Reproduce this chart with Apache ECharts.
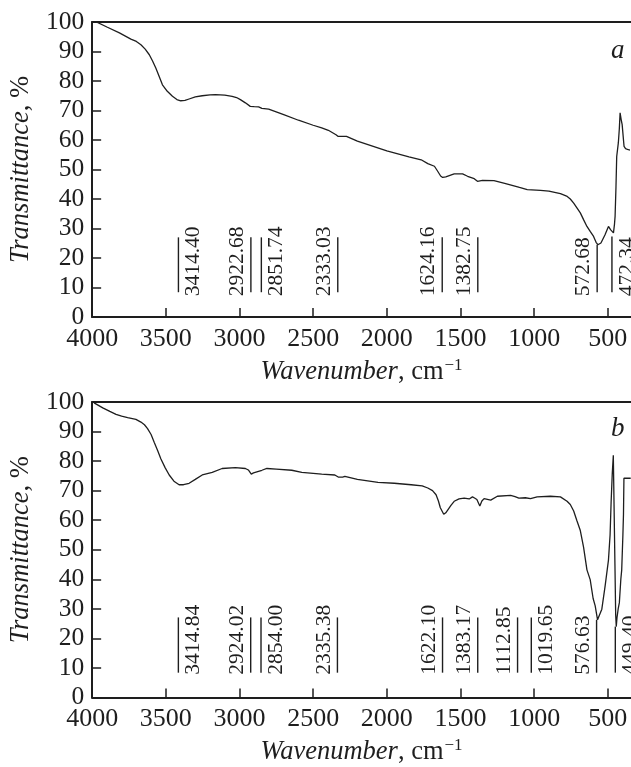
<!DOCTYPE html>
<html>
<head>
<meta charset="utf-8">
<script src="https://cdn.jsdelivr.net/npm/echarts@6/dist/echarts.min.js"></script>
<style>
html,body{margin:0;padding:0;background:#fff;}
#c{width:631px;height:767px;}
</style>
</head>
<body>
<div id="c"></div>
<script>
// ---- data (top panel a) ----
const wnA = [3995,3900,3815,3737,3700,3669,3640,3612,3590,3568,3545,3523,3490,3455,3425,3399,3370,3342,3300,3253,3200,3163,3100,3050,3020,2994,2960,2927,2900,2870,2848,2802,2700,2600,2500,2442,2397,2345,2330,2274,2200,2000,1850,1767,1722,1677,1655,1635,1621,1600,1587,1543,1486,1452,1407,1385,1374,1351,1273,1200,1100,1047,957,900,822,780,755,732,710,687,665,642,620,597,580,568,555,547,520,496,482,473,462,455,451,445,440,429,422,417,410,403,399,394,390,380,372,361,350];
const tA  = [100.6,98.3,96.3,94.2,93.4,92.3,90.8,88.9,86.8,84.4,81.5,78.7,76.5,74.8,73.7,73.3,73.4,73.9,74.6,75.0,75.3,75.4,75.2,74.8,74.4,73.7,72.6,71.4,71.3,71.2,70.7,70.5,68.6,66.7,65.0,64.1,63.3,61.8,61.2,61.2,59.6,56.3,54.3,53.3,52.0,51.1,49.4,47.8,47.3,47.5,47.7,48.5,48.5,47.7,46.9,46.0,45.8,46.3,46.2,45.3,43.9,43.2,42.9,42.7,41.8,41.0,40.0,38.6,37.0,35.3,33.0,30.7,29.0,27.3,25.3,24.5,24.8,25.1,27.8,30.7,29.6,29.0,28.5,31.5,34.1,44.0,54.4,59.0,64.0,69.2,67.0,65.2,64.6,60.0,57.8,57.1,56.9,56.7,56.6];
// ---- data (bottom panel b) ----
const wnB = [3995,3984,3928,3880,3838,3800,3759,3703,3669,3645,3624,3600,3579,3555,3534,3505,3477,3445,3410,3380,3342,3300,3253,3185,3118,3028,2960,2940,2920,2905,2893,2848,2814,2750,2645,2577,2442,2353,2330,2319,2300,2285,2200,2060,1950,1835,1760,1722,1690,1666,1650,1637,1614,1600,1587,1565,1543,1510,1475,1441,1419,1405,1389,1369,1355,1340,1295,1250,1160,1130,1104,1060,1025,980,890,822,777,755,732,710,687,665,642,620,600,586,570,560,541,519,496,485,478,470,463,458,452,447,443,438,430,422,412,406,398,394,391,380,361,345];
const tB  = [100.3,99.6,98.0,96.8,95.8,95.2,94.7,94.1,93.2,92.3,91.0,89.0,86.4,83.5,80.8,77.8,75.3,73.2,72.0,72.0,72.5,73.8,75.3,76.2,77.5,77.8,77.5,77.0,75.6,76.0,76.6,76.9,77.5,77.3,76.9,76.2,75.6,75.3,74.6,74.2,74.6,74.8,73.8,72.8,72.5,72.0,71.6,70.9,70.0,68.6,66.5,64.2,62.0,62.5,63.1,65.0,66.4,67.2,67.5,67.2,67.9,67.5,67.0,64.8,66.5,67.3,66.8,68.1,68.4,68.0,67.5,67.6,67.3,67.9,68.1,67.9,66.4,65.3,63.1,59.8,56.5,50.9,43.2,39.9,33.5,31.0,26.3,26.8,29.9,37.6,46.5,55.0,66.0,76.0,82.0,65.0,45.0,28.0,24.0,27.0,30.0,32.1,40.0,43.2,55.0,62.0,74.2,74.2,74.2,74.2];
// ---- annotations ----
const annA = [3414.40, 2922.68, 2851.74, 2333.03, 1624.16, 1382.75, 572.68, 472.34];
const annALabels = ['3414.40','2922.68','2851.74','2333.03','1624.16','1382.75','572.68','472.34'];
const annASide = ['r','l','r','l','l','l','l','r'];
const annATop = [27, 27, 27, 27, 27, 27, 24.5, 27.3];
const annB = [3414.84, 2924.02, 2854.00, 2335.38, 1622.10, 1383.17, 1112.85, 1019.65, 576.63, 449.40];
const annBLabels = ['3414.84','2924.02','2854.00','2335.38','1622.10','1383.17','1112.85','1019.65','576.63','449.40'];
const annBSide = ['r','l','r','l','l','l','l','r','l','r'];
const annBTop = [27.1, 27.1, 27.1, 27.1, 27.1, 27.1, 27.1, 27.1, 26.3, 24];
// ---- axis ticks ----
const xTicks = [500, 1000, 1500, 2000, 2500, 3000, 3500, 4000];
const yMin = 0, yMax = 100, yStep = 10;
const xMin = 343, xMax = 4000;

const FONT = '"Liberation Serif", "Times New Roman", serif';
const INK = '#1e1e1e';

function xAxesFor(g) {
  return [
    {
      gridIndex: g, type: 'value', inverse: true, min: xMin, max: xMax, position: 'bottom',
      axisLine: { show: true, onZero: false, lineStyle: { color: INK, width: 2 } },
      axisTick: { show: true, inside: true, length: 9, customValues: xTicks, lineStyle: { color: INK, width: 1.5 } },
      axisLabel: { show: true, customValues: xTicks, formatter: v => String(v), fontFamily: FONT, fontSize: 26, color: INK, margin: 9 },
      splitLine: { show: false },
      name: '{i|Wavenumber}{n|, cm}{s|\u22121}',
      nameLocation: 'middle', nameGap: 40,
      nameTextStyle: {
        fontFamily: FONT, fontSize: 26.5, color: INK,
        rich: {
          i: { fontFamily: FONT, fontSize: 26.5, fontStyle: 'italic', color: INK },
          n: { fontFamily: FONT, fontSize: 26.5, color: INK },
          s: { fontFamily: FONT, fontSize: 17, color: INK, padding: [0, 0, 13, 1] }
        }
      }
    },
    {
      gridIndex: g, type: 'value', inverse: true, min: xMin, max: xMax, position: 'top',
      axisLine: { show: true, onZero: false, lineStyle: { color: INK, width: 2 } },
      axisTick: { show: false }, axisLabel: { show: false }, splitLine: { show: false }
    }
  ];
}
function yAxisFor(g) {
  return {
    gridIndex: g, type: 'value', min: yMin, max: yMax, interval: yStep,
    axisLine: { show: true, onZero: false, lineStyle: { color: INK, width: 2 } },
    axisTick: { show: true, inside: true, length: 9, lineStyle: { color: INK, width: 1.5 } },
    axisLabel: { fontFamily: FONT, fontSize: 25.5, color: INK, margin: 8 },
    splitLine: { show: false },
    name: '{i|Transmittance}{n|, %}',
    nameLocation: 'middle', nameGap: 49, nameRotate: 90,
    nameTextStyle: {
      fontFamily: FONT, fontSize: 26.5, color: INK,
      rich: {
        i: { fontFamily: FONT, fontSize: 26.5, fontStyle: 'italic', color: INK },
        n: { fontFamily: FONT, fontSize: 26.5, color: INK }
      }
    }
  };
}
function annRender(labels, sides, textStart) {
  return function (params, api) {
    const i = params.dataIndex;
    const w = api.value(0), top = api.value(1), bot = api.value(2);
    const p1 = api.coord([w, top]);
    const p2 = api.coord([w, bot]);
    const pt = api.coord([w, textStart]);
    const off = sides[i] === 'r' ? 15 : -13.5;
    return {
      type: 'group',
      children: [
        { type: 'line', shape: { x1: p1[0], y1: p1[1], x2: p2[0], y2: p2[1] }, style: { stroke: INK, lineWidth: 1.4 } },
        { type: 'text', x: pt[0] + off, y: pt[1], rotation: Math.PI / 2,
          style: { text: labels[i], font: '21.5px ' + FONT, fill: INK, align: 'left', verticalAlign: 'middle' } }
      ]
    };
  };
}
const LINE_BOTTOM = 8.4;

const chart = echarts.init(document.getElementById('c'), null, { renderer: 'canvas' });
chart.setOption({
  backgroundColor: '#fff',
  animation: false,
  title: [
    { text: 'a', left: 606, top: 32, textStyle: { fontFamily: FONT, fontSize: 27, fontStyle: 'italic', fontWeight: 'normal', color: INK } },
    { text: 'b', left: 606, top: 410, textStyle: { fontFamily: FONT, fontSize: 27, fontStyle: 'italic', fontWeight: 'normal', color: INK } }
  ],
  grid: [
    { left: 89, right: 0, top: 22, height: 295, containLabel: false },
    { left: 89, right: 0, top: 402, height: 301, containLabel: false }
  ],
  xAxis: [...xAxesFor(0), ...xAxesFor(1)],
  yAxis: [yAxisFor(0), yAxisFor(1)],
  series: [
    { type: 'line', xAxisIndex: 0, yAxisIndex: 0, data: wnA.map((w, i) => [w, tA[i]]),
      showSymbol: false, smooth: false, lineStyle: { color: INK, width: 1.3 }, clip: true },
    { type: 'line', xAxisIndex: 2, yAxisIndex: 1, data: wnB.map((w, i) => [w, tB[i]]),
      showSymbol: false, smooth: false, lineStyle: { color: INK, width: 1.3 }, clip: true },
    { type: 'custom', xAxisIndex: 0, yAxisIndex: 0, renderItem: annRender(annALabels, annASide, 7),
      data: annA.map((w, i) => [w, annATop[i], LINE_BOTTOM]) },
    { type: 'custom', xAxisIndex: 2, yAxisIndex: 1, renderItem: annRender(annBLabels, annBSide, 7.7),
      data: annB.map((w, i) => [w, annBTop[i], LINE_BOTTOM]) }
  ]
});
</script>
</body>
</html>
